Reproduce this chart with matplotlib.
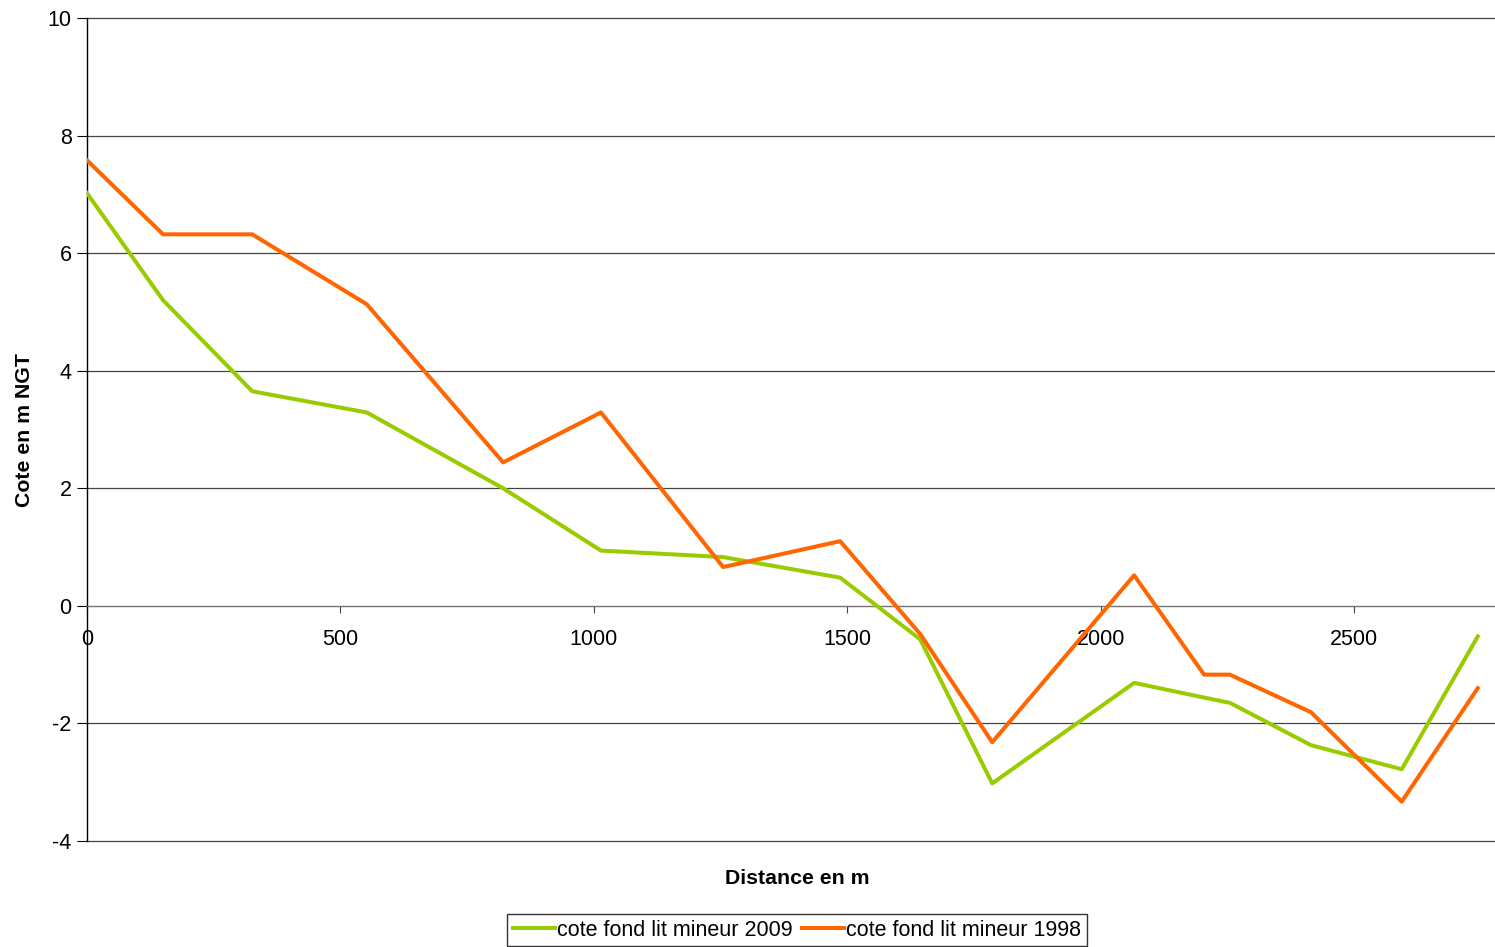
import matplotlib.pyplot as plt

plt.rcParams['font.family'] = ['Liberation Sans', 'DejaVu Sans']
plt.rcParams['axes.unicode_minus'] = False

# Profil en long du lit mineur
distance = [0, 150, 326, 552, 821, 1014, 1255, 1486, 1644, 1786, 2066, 2204, 2255, 2415, 2594, 2744]
cote_2009 = [7.02, 5.20, 3.65, 3.29, 2.00, 0.94, 0.83, 0.48, -0.57, -3.02, -1.31, -1.56, -1.65, -2.37, -2.78, -0.52]
cote_1998 = [7.58, 6.32, 6.32, 5.13, 2.44, 3.29, 0.66, 1.10, -0.48, -2.32, 0.52, -1.17, -1.17, -1.81, -3.33, -1.40]

x_ticks = [0, 500, 1000, 1500, 2000, 2500]
y_ticks = [-4, -2, 0, 2, 4, 6, 8, 10]

fig = plt.figure(figsize=(14.95, 9.47), dpi=100)
ax = fig.add_axes([87 / 1495, 1 - 841 / 947, 1 - 87 / 1495, (841 - 18) / 947])

ax.plot(distance, cote_2009, color='#99CC00', lw=2.9, label='cote fond lit mineur 2009', zorder=3)
ax.plot(distance, cote_1998, color='#FF6600', lw=2.9, label='cote fond lit mineur 1998', zorder=4)

ax.set_xlim(0, 2778)
ax.set_ylim(-4, 10)
ax.set_xticks(x_ticks)
ax.set_yticks(y_ticks)

# horizontal grid, x axis crossing at zero
for y in y_ticks:
    ax.axhline(y, color='#444444', lw=0.9, zorder=1, clip_on=False)
ax.spines['bottom'].set_position(('data', 0))
ax.spines['bottom'].set_color('#777777')
ax.spines['top'].set_visible(False)
ax.spines['right'].set_visible(False)
ax.spines['left'].set_color('black')
ax.spines['left'].set_linewidth(1.0)

ax.tick_params(axis='x', direction='out', length=5, pad=12, labelsize=15.5, color='#444444')
ax.tick_params(axis='y', direction='out', length=7, pad=4, labelsize=15.5)

fig.text(797 / 1495, 1 - 878 / 947, 'Distance en m', ha='center', va='center',
         fontsize=15.3, fontweight='bold')
fig.text(25 / 1495, 1 - 430 / 947, 'Cote en m NGT', ha='center', va='center',
         rotation=90, fontsize=15.3, fontweight='bold')

leg = fig.legend(loc='lower center', bbox_to_anchor=(797 / 1495, 1 / 947), ncol=2,
                 fontsize=15.5, frameon=True, fancybox=False, handlelength=1.95,
                 handletextpad=0.1, columnspacing=0.45, borderpad=0.25, borderaxespad=0)
leg.get_frame().set_edgecolor('black')
leg.get_frame().set_linewidth(1.0)

fig.savefig('out.png', dpi=100)
